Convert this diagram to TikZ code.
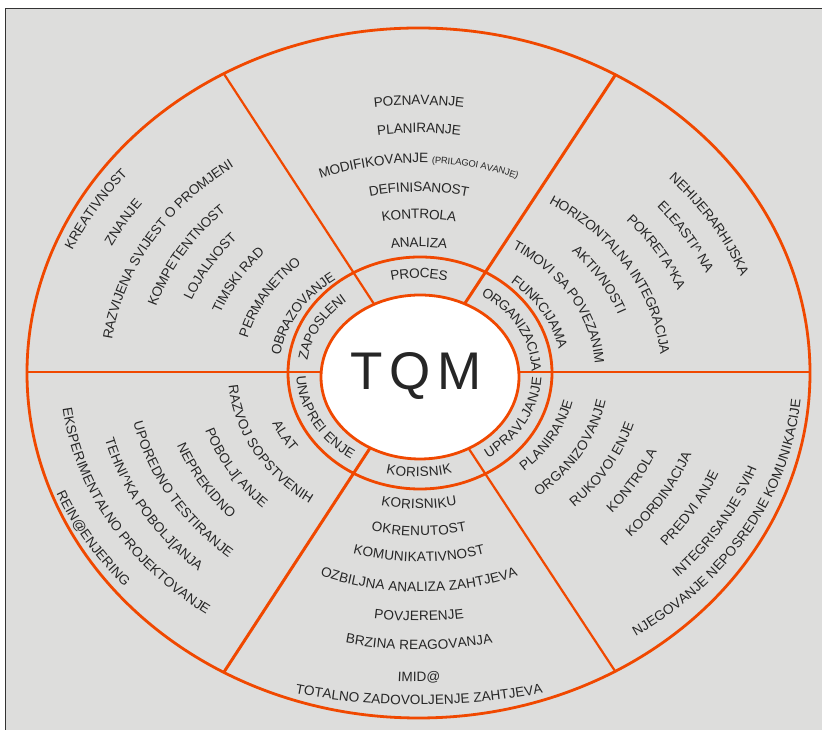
\documentclass[tikz,border=0pt]{standalone}
\usepackage{fontspec}
\setmainfont{Liberation Sans}

\definecolor{bgray}{HTML}{DDDDDC}
\definecolor{framec}{HTML}{333333}
\definecolor{rim}{HTML}{F04800}
\definecolor{txt}{HTML}{262626}

\newcommand\lbltext{\fontsize{13.6}{16}\selectfont}
\newcommand\lblsmall{\fontsize{9.3}{11}\selectfont}

% Letters set one by one along an elliptic arc around the centre (419,357).
% \arclbl[aspect]{y radius}{angle}{1 = clockwise, -1 = counter-clockwise}{text}
\ExplSyntaxOn
\fp_new:N \l_arc_a_fp
\fp_new:N \l_arc_r_fp
\fp_new:N \l_arc_phi_fp
\fp_new:N \l_arc_sign_fp
\fp_new:N \l_arc_spd_fp
\fp_new:N \l_arc_t_fp
\fp_new:N \l_arc_m_fp
\fp_new:N \l_arc_ang_fp
\fp_new:N \l_arc_rot_fp
\fp_new:N \l_arc_x_fp
\fp_new:N \l_arc_y_fp
\dim_new:N \l_arc_s_dim
\dim_new:N \l_arc_chw_dim
\dim_new:N \l_arc_total_dim
\box_new:N \g_arc_box
\tl_new:N \l_arc_rot_tl
\tl_new:N \l_arc_x_tl
\tl_new:N \l_arc_y_tl
\fp_const:Nn \c_arc_cx_fp {419}
\fp_const:Nn \c_arc_cy_fp {357}
\fp_const:Nn \c_arc_raise_fp {4.9}

% width of one character, measured outside the picture's font suppression
\cs_new_protected:Npn \arc_width:nn #1#2
  {
    \pgfinterruptpicture
      \hbox_gset:Nn \g_arc_box { #1 #2 }
    \endpgfinterruptpicture
    \dim_set:Nn \l_arc_chw_dim { \box_wd:N \g_arc_box }
  }

\cs_new_protected:Npn \arc_setup:nnnn #1#2#3#4
  {
    \fp_set:Nn \l_arc_a_fp {#1}
    \fp_set:Nn \l_arc_r_fp {#2}
    \fp_set:Nn \l_arc_phi_fp {#3}
    \fp_set:Nn \l_arc_sign_fp {#4}
    \fp_set:Nn \l_arc_spd_fp { sqrt( (#1 * sind(#3))^2 + (cosd(#3))^2 ) }
  }

\cs_new_protected:Npn \arc_measure:nn #1#2
  {
    \str_map_inline:nn {#2}
      {
        \arc_width:nn {#1} {##1}
        \dim_add:Nn \l_arc_total_dim { \l_arc_chw_dim }
      }
  }

\cs_new_protected:Npn \arc_char:nn #1#2
  {
    \arc_width:nn {#1} {#2}
    \fp_set:Nn \l_arc_t_fp { \dim_to_fp:n { \l_arc_s_dim + 0.5\l_arc_chw_dim } }
    \fp_set:Nn \l_arc_m_fp
      { \l_arc_phi_fp - \l_arc_sign_fp * \l_arc_t_fp
        / (2 * \l_arc_r_fp * \l_arc_spd_fp) * 180 / pi }
    \fp_set:Nn \l_arc_ang_fp
      { \l_arc_phi_fp - \l_arc_sign_fp * \l_arc_t_fp
        / ( \l_arc_r_fp * sqrt( (\l_arc_a_fp * sind(\l_arc_m_fp))^2
                               + (cosd(\l_arc_m_fp))^2 ) ) * 180 / pi }
    \fp_set:Nn \l_arc_rot_fp
      { atand( - \l_arc_sign_fp * cosd(\l_arc_ang_fp),
               \l_arc_sign_fp * \l_arc_a_fp * sind(\l_arc_ang_fp) ) }
    \fp_set:Nn \l_arc_x_fp
      { \c_arc_cx_fp + \l_arc_a_fp * \l_arc_r_fp * cosd(\l_arc_ang_fp)
        + \c_arc_raise_fp * sind(\l_arc_rot_fp) }
    \fp_set:Nn \l_arc_y_fp
      { \c_arc_cy_fp + \l_arc_r_fp * sind(\l_arc_ang_fp)
        - \c_arc_raise_fp * cosd(\l_arc_rot_fp) }
    \tl_set:Nx \l_arc_rot_tl { \fp_eval:n { round(\l_arc_rot_fp, 3) } }
    \tl_set:Nx \l_arc_x_tl { \fp_eval:n { round(\l_arc_x_fp, 3) } }
    \tl_set:Nx \l_arc_y_tl { \fp_eval:n { round(\l_arc_y_fp, 3) } }
    \str_if_eq:nnF {#2} { ~ }
      {
        \node [ anchor=base, rotate=\l_arc_rot_tl, inner~sep=0pt, text=txt ]
          at ~ (\l_arc_x_tl pt, \l_arc_y_tl pt) {#1#2};
      }
    \dim_add:Nn \l_arc_s_dim { \l_arc_chw_dim }
  }

\NewDocumentCommand \arclbl { O{1.2} m m m m }
  {
    \arc_setup:nnnn {#1} {#2} {#3} {#4}
    \dim_zero:N \l_arc_total_dim
    \arc_measure:nn { \lbltext } {#5}
    \dim_set:Nn \l_arc_s_dim { -0.5\l_arc_total_dim }
    \str_map_inline:nn {#5} { \arc_char:nn { \lbltext } {##1} }
  }

% same, with a second part in the small size
\NewDocumentCommand \arclbltwo { O{1.2} m m m m m }
  {
    \arc_setup:nnnn {#1} {#2} {#3} {#4}
    \dim_zero:N \l_arc_total_dim
    \arc_measure:nn { \lbltext } {#5}
    \arc_measure:nn { \lblsmall } {#6}
    \dim_set:Nn \l_arc_s_dim { -0.5\l_arc_total_dim }
    \str_map_inline:nn {#5} { \arc_char:nn { \lbltext } {##1} }
    \str_map_inline:nn {#6} { \arc_char:nn { \lblsmall } {##1} }
  }
\ExplSyntaxOff

\tikzset{
  spoke/.style={draw=rim,line width=2.2pt},
  spokeb/.style={draw=rim,line width=3pt},
  ring/.style={draw=rim,line width=2.8pt},
}

\begin{document}
\begin{tikzpicture}[x=1pt,y=1pt]
  \useasboundingbox (0,0) rectangle (822,730);
  % panel
  \fill[bgray] (5,0) rectangle (822,721);
  \draw[framec,line width=1pt] (5,0) -- (5,721) -- (822,721);

  % centre and spoke ends
  \coordinate (c) at (419,357);
  \coordinate (ul) at (224,656);
  \coordinate (ur) at (616,656);
  \coordinate (ll) at (224,58);
  \coordinate (lr) at (615,59);
  \coordinate (hl) at (27,358.3);
  \coordinate (hr) at (810,358.3);

  \draw[spoke] (c) -- (ul);
  \draw[spokeb] (c) -- (ur);
  \draw[spokeb] (c) -- (ll);
  \draw[spoke] (c) -- (lr);
  \draw[spoke] (hl) -- (hr);

  % outer rim and middle ring
  \draw[ring] (418.5,357) ellipse [x radius=391.5, y radius=345];
  \draw[ring] (420,357) ellipse [x radius=132, y radius=116];
  % core
  \filldraw[fill=white,ring] (420,353) ellipse [x radius=99, y radius=82];
  \node[anchor=base,text=txt,font=\fontsize{53}{60}\selectfont,inner sep=0pt]
    (tqm) at (416,340) {T\kern7pt Q\kern7pt M};

  % top sector
  \arclbl{273}{90}{1}{POZNAVANJE}
  \arclbl{245}{90}{1}{PLANIRANJE}
  \arclbltwo[1.22]{215}{90}{1}{MODIFIKOVANJE }{(PRILAGOI AVANJE)}
  \arclbl{186}{90}{1}{DEFINISANOST}
  \arclbl{159}{90}{1}{KONTROLA}
  \arclbl{131}{90}{1}{ANALIZA}
  \arclbl{100}{90}{1}{PROCES}

  % upper left sector
  \arclbl{318}{148.6}{1}{KREATIVNOST}
  \arclbl{290}{148.5}{1}{ZNANJE}
  \arclbl{262}{148.8}{1}{RAZVIJENA SVIJEST O PROMJENI}
  \arclbl{233}{148.5}{1}{KOMPETENTNOST}
  \arclbl{207}{148.4}{1}{LOJALNOST}
  \arclbl{180}{148.2}{1}{TIMSKI RAD}
  \arclbl{151}{148.4}{1}{PERMANETNO}
  \arclbl{121}{148}{1}{OBRAZOVANJE}
  \arclbl{98}{150}{1}{ZAPOSLENI}

  % upper right sector
  \arclbl{289}{31.7}{1}{NEHIJERARHIJSKA}
  \arclbl{263}{31.5}{1}{ELEASTI^ NA}
  \arclbl{235}{31.6}{1}{POKRETA^KA}
  \arclbl{206}{32.5}{1}{HORIZONTALNA INTEGRACIJA}
  \arclbl{180}{31.9}{1}{AKTIVNOSTI}
  \arclbl{151}{32}{1}{TIMOVI SA POVEZANIM}
  \arclbl{123}{31.6}{1}{FUNKCIJAMA}
  \arclbl{98}{30}{1}{ORGANIZACIJA}

  % lower right sector
  \arclbl{98}{-30}{-1}{UPRAVLJANJE}
  \arclbl{127}{-30.6}{-1}{PLANIRANJE}
  \arclbl{154}{-31.1}{-1}{ORGANIZOVANJE}
  \arclbl{182}{-31.1}{-1}{RUKOVOI ENJE}
  \arclbl{209}{-31.3}{-1}{KONTROLA}
  \arclbl{237}{-31.4}{-1}{KOORDINACIJA}
  \arclbl{265}{-31}{-1}{PREDVI ANJE}
  \arclbl{293}{-31.2}{-1}{INTEGRISANJE SVIH}
  \arclbl{315}{-31}{-1}{NJEGOVANJE NEPOSREDNE KOMUNIKACIJE}

  % lower left sector
  \arclbl{98}{210}{-1}{UNAPREI ENJE}
  \arclbl{128}{209.2}{-1}{ALAT}
  \arclbl{155}{210.5}{-1}{RAZVOJ SOPSTVENIH}
  \arclbl{183}{212}{-1}{POBOLJ[ ANJE}
  \arclbl{210}{211.3}{-1}{NEPREKIDNO}
  \arclbl{239}{211}{-1}{UPOREDNO TESTIRANJE}
  \arclbl{266}{211}{-1}{TEHNI^KA POBOLJ[ANJA}
  \arclbl{295}{211}{-1}{EKSPERIMENTALNO PROJEKTOVANJE}
  \arclbl{321}{211.4}{-1}{REIN@ENJERING}

  % bottom sector
  \arclbl{99}{270}{-1}{KORISNIK}
  \arclbl{131}{270}{-1}{KORISNIKU}
  \arclbl{158}{270}{-1}{OKRENUTOST}
  \arclbl{184}{270}{-1}{KOMUNIKATIVNOST}
  \arclbl{214}{270}{-1}{OZBILJNA ANALIZA ZAHTJEVA}
  \arclbl{243}{270}{-1}{POVJERENJE}
  \arclbl{272}{270}{-1}{BRZINA REAGOVANJA}
  \arclbl{304}{270}{-1}{IMID@}
  \arclbl[1.42]{327}{270}{-1}{TOTALNO ZADOVOLJENJE ZAHTJEVA}
\end{tikzpicture}
\end{document}
